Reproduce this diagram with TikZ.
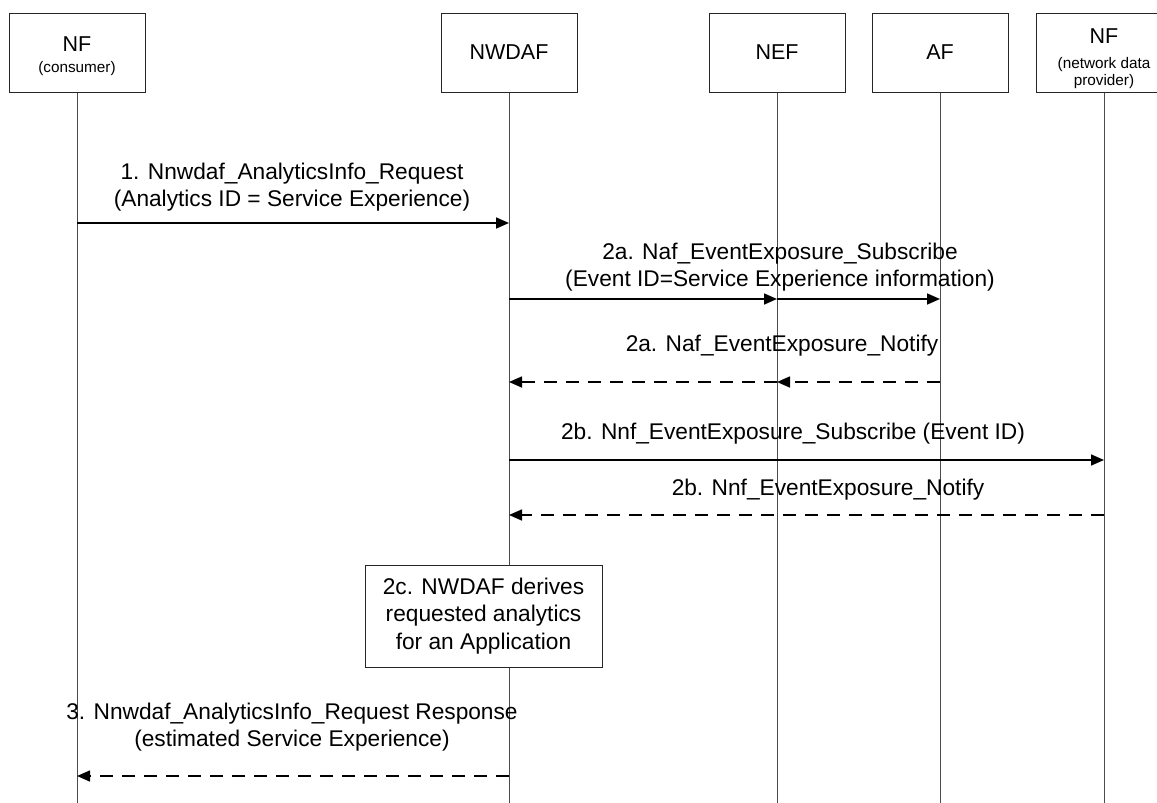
\documentclass[tikz,border=0pt]{standalone}
\usepackage{fontspec}
\setmainfont{Liberation Sans}
\usetikzlibrary{arrows.meta}
\begin{document}
\begin{tikzpicture}[x=1pt,y=-1pt,
  entity/.style={draw=black!85,line width=1pt,minimum width=136pt,minimum height=79pt,inner sep=0pt,align=center,fill=white},
  life/.style={draw=black!70,line width=1pt},
  msg/.style={draw=black,line width=1.6pt,-{Triangle[length=13pt,width=11pt]}},
  ret/.style={msg,dash pattern=on 13pt off 9pt},
  lbl/.style={font=\fontsize{22.7}{27.5}\selectfont,align=center,inner sep=0pt},
  procbox/.style={draw=black!85,line width=1pt,fill=white,minimum width=237pt,minimum height=102pt,inner sep=0pt,align=center,font=\fontsize{22.7}{27.5}\selectfont},
  bigtxt/.style={font=\fontsize{21.5}{24}\selectfont,inner sep=0pt},
  smalltxt/.style={font=\fontsize{15.3}{17}\selectfont,inner sep=0pt,align=center},
]
\clip (0,0) rectangle (1157,803);
\fill[white] (0,0) rectangle (1157,803);
\coordinate (bot) at (0,803);
% entities
\node[entity] (nfc) at (77,52.5) {};
\node[bigtxt] (nfc-t) at (nfc |- 0,44) {NF};
\node[smalltxt] (nfc-s) at (nfc |- 0,69) {(consumer)};
\node[entity] (nwdaf) at (509,52.5) {\fontsize{21.5}{24}\selectfont NWDAF};
\node[entity] (nef) at (777,52.5) {\fontsize{21.5}{24}\selectfont NEF};
\node[entity] (af) at (940,52.5) {\fontsize{21.5}{24}\selectfont AF};
\node[entity] (nfp) at (1104,52.5) {};
\node[bigtxt] (nfp-t) at (nfp |- 0,36) {NF};
\node[smalltxt] (nfp-s) at (nfp |- 0,73.5) {(network data\\provider)};
% lifelines
\draw[life] (nfc.south) -- (nfc.south |- bot);
\draw[life] (nwdaf.south) -- (nwdaf.south |- bot);
\draw[life] (nef.south) -- (nef.south |- bot);
\draw[life] (af.south) -- (af.south |- bot);
\draw[life] (nfp.south) -- (nfp.south |- bot);
% message rows
\coordinate (m1) at (0,223);
\coordinate (m2) at (0,299);
\coordinate (m3) at (0,382);
\coordinate (m4) at (0,460);
\coordinate (m5) at (0,515);
\coordinate (m6) at (0,776);
% 1
\node[lbl] (l1) at (292,187) {1. Nnwdaf\_AnalyticsInfo\_Request\\(Analytics ID = Service Experience)};
\draw[msg] (nfc |- m1) -- (nwdaf |- m1);
% 2a subscribe
\node[lbl] (l2) at (780,267) {2a. Naf\_EventExposure\_Subscribe\\(Event ID=Service Experience information)};
\draw[msg] (nwdaf |- m2) -- (nef |- m2);
\draw[msg] (nef |- m2) -- (af |- m2);
% 2a notify
\node[lbl] (l3) at (782,346) {2a. Naf\_EventExposure\_Notify};
\draw[ret] (af |- m3) -- (nef |- m3);
\draw[ret] (nef |- m3) -- (nwdaf |- m3);
% 2b subscribe
\node[lbl] (l4) at (793,434) {2b. Nnf\_EventExposure\_Subscribe (Event ID)};
\draw[msg] (nwdaf |- m4) -- (nfp |- m4);
% 2b notify
\node[lbl] (l5) at (828,490) {2b. Nnf\_EventExposure\_Notify};
\draw[ret] (nfp |- m5) -- (nwdaf |- m5);
% 2c
\node[procbox] (p2c) at (483.5,616) {2c. NWDAF derives\\requested analytics\\for an Application};
% 3
\node[lbl] (l6) at (292,727) {3. Nnwdaf\_AnalyticsInfo\_Request Response\\(estimated Service Experience)};
\draw[ret] (nwdaf |- m6) -- (nfc |- m6);
\end{tikzpicture}
\end{document}
